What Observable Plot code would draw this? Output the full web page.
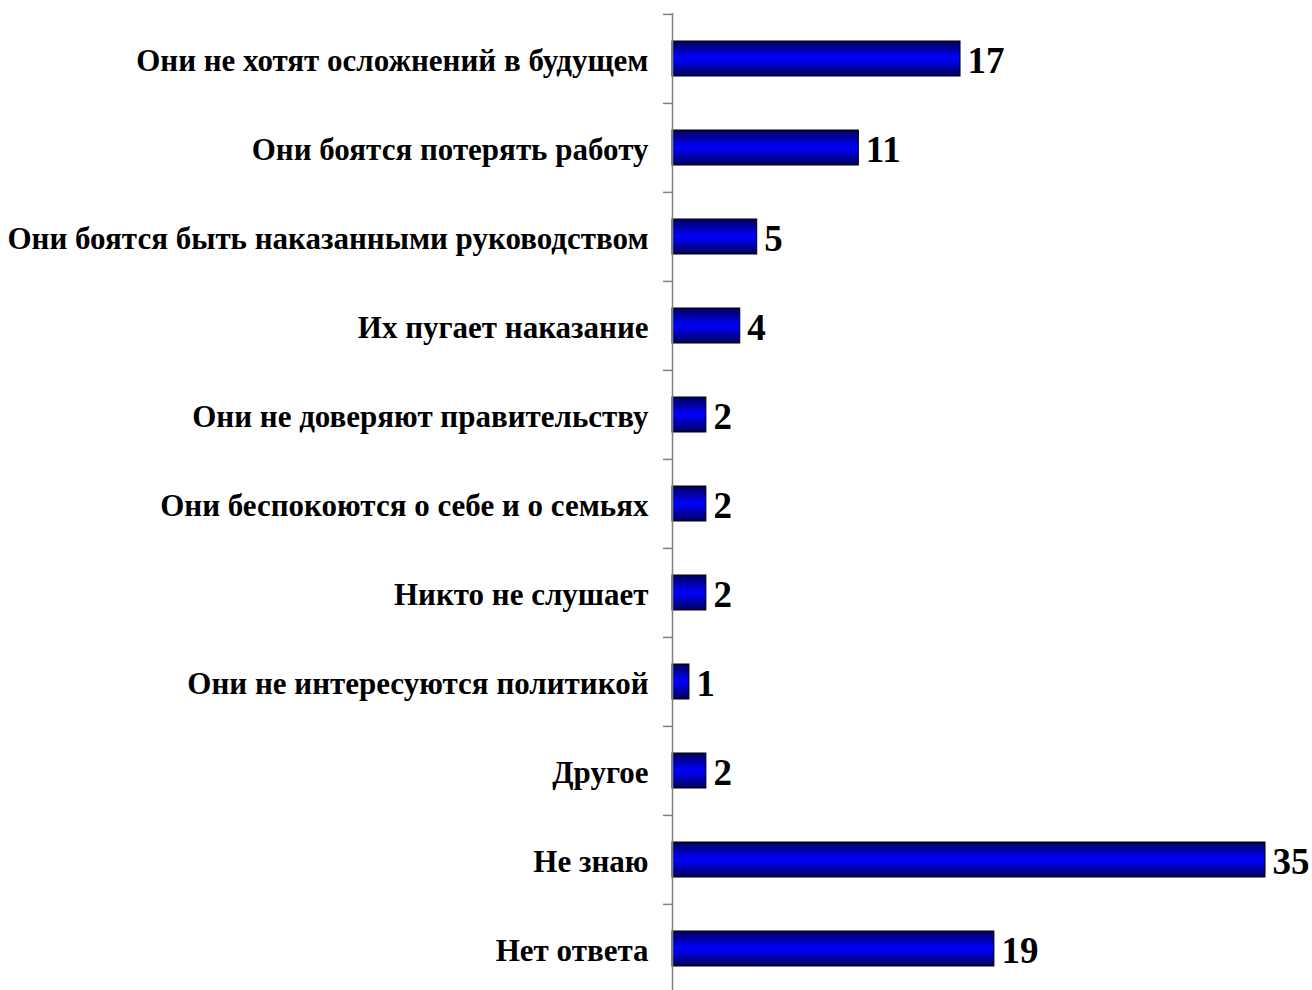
<!DOCTYPE html>
<html>
<head>
<meta charset="utf-8">
<script src="https://cdn.jsdelivr.net/npm/d3@7"></script>
<script src="https://cdn.jsdelivr.net/npm/@observablehq/plot@0.6"></script>
<style>
  html, body { margin: 0; padding: 0; background: #ffffff; }
  #chart svg { display: block; }
</style>
</head>
<body>
<div id="chart"></div>
<script>
const categories = [
  "Они не хотят осложнений в будущем",
  "Они боятся потерять работу",
  "Они боятся быть наказанными руководством",
  "Их пугает наказание",
  "Они не доверяют правительству",
  "Они беспокоются о себе и о семьях",
  "Никто не слушает",
  "Они не интересуются политикой",
  "Другое",
  "Не знаю",
  "Нет ответа"
];
const values = [17, 11, 5, 4, 2, 2, 2, 1, 2, 35, 19];

const data = categories.map((c, i) => ({category: c, value: values[i]}));

const yRange = [13, 994];
const step = (yRange[1] - yRange[0]) / categories.length;

const chart = Plot.plot({
  width: 1312,
  height: 990,
  marginLeft: 672,
  marginRight: 47,
  marginTop: 13,
  marginBottom: 0,
  style: {fontFamily: "'Liberation Serif', 'Times New Roman', serif", background: "#ffffff"},
  x: {domain: [0, 35], axis: null},
  y: {domain: categories, range: yRange, paddingInner: 0.61, paddingOuter: 0.305, align: 0.5, label: null},
  marks: [
    Plot.barX(data, {x: "value", y: "category", fill: "url(#barGrad)", stroke: "#000000", strokeWidth: 1}),
    Plot.text(data, {x: "value", y: "category", text: d => String(d.value), textAnchor: "start", dx: 7, dy: 2,
      fontSize: 37, fontWeight: "bold", fill: "#000000"}),
    Plot.axisY({tickSize: 0, tickPadding: 24, fontSize: 31, fontWeight: "bold", fill: "#000000", dy: 2, label: null}),
    Plot.axisY({tickSize: 9, tickFormat: () => "", dy: -step / 2, stroke: "#808080", strokeWidth: 1.5, label: null}),
    Plot.ruleX([0], {stroke: "#808080", strokeWidth: 1.5})
  ]
});

const defs = d3.create("svg:defs");
const grad = defs.append("linearGradient").attr("id", "barGrad").attr("x1", 0).attr("y1", 0).attr("x2", 0).attr("y2", 1);
grad.append("stop").attr("offset", "0%").attr("stop-color", "#00005a");
grad.append("stop").attr("offset", "50%").attr("stop-color", "#0000ff");
grad.append("stop").attr("offset", "100%").attr("stop-color", "#00005a");
chart.insertBefore(defs.node(), chart.firstChild);

document.getElementById("chart").appendChild(chart);
</script>
</body>
</html>
